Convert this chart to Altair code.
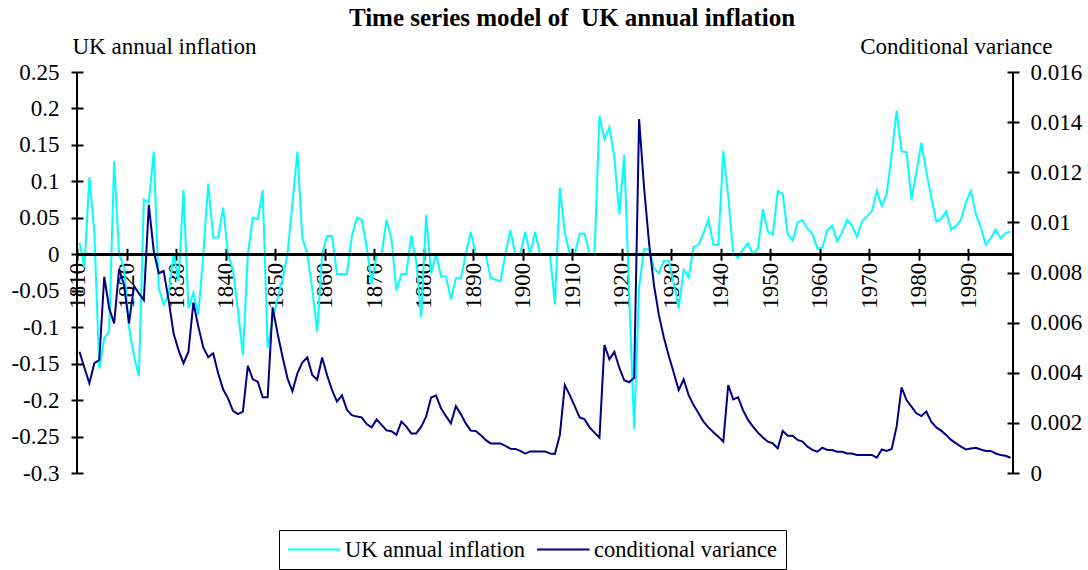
import altair as alt
import pandas as pd

# Annual series, one value per year starting in 1810
first_year = 1810

inflation = [
    0.016, -0.018, 0.106, 0.030, -0.157, -0.115, -0.106, 0.128, 0.000, -0.018,   # 1810s
    -0.100, -0.140, -0.167, 0.075, 0.071, 0.141, -0.046, -0.069, -0.055, 0.000,  # 1820s
    -0.037, 0.088, -0.074, -0.053, -0.083, 0.000, 0.097, 0.023, 0.023, 0.064,    # 1830s
    0.000, -0.022, -0.077, -0.138, 0.000, 0.050, 0.048, 0.088, -0.128, -0.090,   # 1840s
    -0.060, -0.035, 0.000, 0.070, 0.141, 0.023, 0.000, -0.047, -0.106, 0.000,    # 1850s
    0.025, 0.025, -0.027, -0.027, -0.027, 0.025, 0.050, 0.047, 0.010, -0.040,    # 1860s
    0.000, 0.000, 0.047, 0.021, -0.050, -0.027, -0.027, 0.026, -0.010, -0.086,   # 1870s
    0.054, -0.026, 0.000, -0.030, -0.030, -0.062, -0.033, -0.033, 0.000, 0.031,  # 1880s
    0.000, 0.000, 0.000, -0.032, -0.035, -0.037, 0.000, 0.033, 0.000, 0.000,     # 1890s
    0.031, 0.000, 0.031, 0.000, 0.000, 0.000, -0.069, 0.091, 0.030, 0.000,       # 1900s
    0.000, 0.028, 0.028, 0.000, 0.000, 0.190, 0.158, 0.174, 0.133, 0.055,        # 1910s
    0.136, -0.055, -0.240, -0.045, 0.007, 0.007, -0.019, -0.026, -0.009, -0.009, # 1920s
    -0.040, -0.074, -0.021, -0.032, 0.010, 0.013, 0.029, 0.048, 0.013, 0.013,    # 1930s
    0.142, 0.079, 0.002, -0.005, 0.007, 0.015, 0.000, 0.008, 0.062, 0.031,       # 1940s
    0.027, 0.087, 0.083, 0.028, 0.019, 0.044, 0.047, 0.035, 0.028, 0.008,        # 1950s
    0.009, 0.033, 0.039, 0.018, 0.030, 0.047, 0.039, 0.024, 0.045, 0.052,        # 1960s
    0.059, 0.087, 0.066, 0.083, 0.136, 0.197, 0.141, 0.140, 0.075, 0.113,        # 1970s
    0.153, 0.113, 0.078, 0.045, 0.048, 0.059, 0.034, 0.039, 0.047, 0.072,        # 1980s
    0.087, 0.055, 0.037, 0.013, 0.022, 0.034, 0.022, 0.029, 0.031,               # 1990s
]

cond_variance = [
    0.00484, 0.00420, 0.00358, 0.00438, 0.00451, 0.00783, 0.00657, 0.00597, 0.00814, 0.00750,  # 1810s
    0.00597, 0.00746, 0.00717, 0.00690, 0.01070, 0.00885, 0.00797, 0.00806, 0.00690, 0.00557,  # 1820s
    0.00490, 0.00438, 0.00484, 0.00680, 0.00584, 0.00501, 0.00462, 0.00478, 0.00398, 0.00334,  # 1830s
    0.00298, 0.00248, 0.00235, 0.00245, 0.00428, 0.00374, 0.00364, 0.00302, 0.00302, 0.00661,  # 1840s
    0.00557, 0.00464, 0.00378, 0.00326, 0.00398, 0.00441, 0.00462, 0.00391, 0.00372, 0.00461,  # 1850s
    0.00390, 0.00331, 0.00285, 0.00310, 0.00252, 0.00231, 0.00225, 0.00222, 0.00195, 0.00182,  # 1860s
    0.00214, 0.00192, 0.00170, 0.00167, 0.00152, 0.00205, 0.00185, 0.00158, 0.00158, 0.00185,  # 1870s
    0.00225, 0.00301, 0.00309, 0.00258, 0.00227, 0.00198, 0.00267, 0.00235, 0.00198, 0.00169,  # 1880s
    0.00168, 0.00152, 0.00132, 0.00118, 0.00118, 0.00118, 0.00108, 0.00097, 0.00096, 0.00088,  # 1890s
    0.00077, 0.00086, 0.00086, 0.00086, 0.00086, 0.00078, 0.00076, 0.00152, 0.00351, 0.00311,  # 1900s
    0.00267, 0.00222, 0.00214, 0.00182, 0.00161, 0.00141, 0.00511, 0.00454, 0.00484, 0.00420,  # 1910s
    0.00370, 0.00362, 0.00380, 0.01412, 0.01140, 0.00920, 0.00750, 0.00630, 0.00541, 0.00467,  # 1920s
    0.00400, 0.00331, 0.00374, 0.00311, 0.00271, 0.00238, 0.00205, 0.00182, 0.00163, 0.00145,  # 1930s
    0.00125, 0.00351, 0.00294, 0.00302, 0.00250, 0.00212, 0.00185, 0.00161, 0.00142, 0.00125,  # 1940s
    0.00118, 0.00098, 0.00168, 0.00149, 0.00149, 0.00132, 0.00125, 0.00105, 0.00092, 0.00085,  # 1950s
    0.00101, 0.00092, 0.00092, 0.00085, 0.00085, 0.00078, 0.00078, 0.00072, 0.00072, 0.00072,  # 1960s
    0.00072, 0.00061, 0.00094, 0.00088, 0.00096, 0.00185, 0.00342, 0.00291, 0.00265, 0.00238,  # 1970s
    0.00227, 0.00245, 0.00205, 0.00182, 0.00169, 0.00152, 0.00132, 0.00118, 0.00105, 0.00094,  # 1980s
    0.00098, 0.00101, 0.00094, 0.00088, 0.00088, 0.00078, 0.00072, 0.00069, 0.00061,           # 1990s
]

years = list(range(first_year, first_year + len(inflation)))

series_names = ["UK annual inflation", "conditional variance"]
series_colors = ["#00FFFF", "#000080"]

decade_labels = [1810, 1820, 1830, 1840, 1850, 1860, 1870, 1880, 1890, 1900,
                 1910, 1920, 1930, 1940, 1950, 1960, 1970, 1980, 1990]
left_ticks = [0.25, 0.2, 0.15, 0.1, 0.05, 0, -0.05, -0.1, -0.15, -0.2, -0.25, -0.3]
right_ticks = [0, 0.002, 0.004, 0.006, 0.008, 0.01, 0.012, 0.014, 0.016]

df = pd.DataFrame({
    "year": years + years,
    "value": inflation + cond_variance,
    "series": [series_names[0]] * len(years) + [series_names[1]] * len(years),
})

FONT = "Liberation Serif"
FS = 23
W, H = 936, 401

# categories sit between tick marks: ticks fall on year boundaries
tick_positions = [y - 0.5 for y in decade_labels]
x_domain = [years[0] - 0.5, years[-1] + 0.5]

minus_expr = "datum.value < 0 ? '-' + format(-datum.value, '~g') : format(datum.value, '~g')"

# a horizontal line swatch drawn to the right of the symbol anchor
swatch_path = "M-1,0H4"

color = alt.Color(
    "series:N",
    scale=alt.Scale(domain=series_names, range=series_colors),
    legend=alt.Legend(
        title=None, orient="none", legendX=202, legendY=458,
        direction="horizontal", symbolType=swatch_path, symbolSize=441,
        symbolStrokeWidth=2, labelFont=FONT, labelFontSize=22.5, labelColor="black",
        strokeColor="black", padding=8, columnPadding=8, labelOffset=35, labelLimit=0,
    ),
)

x_enc = alt.X(
    "year:Q",
    scale=alt.Scale(domain=x_domain, nice=False, zero=False),
    axis=alt.Axis(
        values=tick_positions, labelExpr="format(datum.value + 0.5, 'd')",
        labelAngle=270, orient="bottom", offset=-(H - H * 5 / 11) - 6,
        domain=False, grid=False, tickSize=12, tickWidth=2, tickColor="black",
        labelPadding=2, labelFont=FONT, labelFontSize=FS, labelColor="black",
        labelOverlap=False, labelFlush=False, title=None,
    ),
)

left_scale = alt.Scale(domain=[-0.3, 0.25], nice=False, zero=False)
left_axis = alt.Axis(
    values=left_ticks, orient="left", offset=-6, domain=False, grid=False,
    tickSize=12, tickWidth=2, tickColor="black", labelPadding=12,
    labelExpr=minus_expr, labelFont=FONT, labelFontSize=FS, labelColor="black",
    labelOverlap=False, labelFlush=False,
    title="UK annual inflation", titleAngle=0, titleX=-11, titleY=-19,
    titleAlign="left", titleBaseline="alphabetic", titleFont=FONT,
    titleFontSize=FS, titleFontWeight="normal", titleColor="black",
)

infl_line = alt.Chart(df).transform_filter(
    alt.datum.series == series_names[0]
).mark_line(strokeWidth=2).encode(
    x=x_enc,
    y=alt.Y("value:Q", scale=left_scale, axis=left_axis),
    color=color,
)

# horizontal line through zero of the inflation scale
zero_line = alt.Chart(df).mark_rule(color="black", strokeWidth=2).encode(
    y=alt.YDatum(0, type="quantitative", scale=left_scale, axis=left_axis),
    x=alt.value(0), x2=alt.value(W),
)

var_line = alt.Chart(df).transform_filter(
    alt.datum.series == series_names[1]
).mark_line(strokeWidth=2).encode(
    x=alt.X("year:Q"),
    y=alt.Y(
        "value:Q",
        scale=alt.Scale(domain=[0, 0.016], nice=False, zero=False),
        axis=alt.Axis(
            values=right_ticks, orient="right", offset=-6, domain=False, grid=False,
            tickSize=12, tickWidth=2, tickColor="black", labelPadding=11,
            format="~g", labelFont=FONT, labelFontSize=FS, labelColor="black",
            labelOverlap=False, labelFlush=False,
            title="Conditional variance", titleAngle=0, titleX=45, titleY=-19,
            titleAlign="right", titleBaseline="alphabetic", titleFont=FONT,
            titleFontSize=FS, titleFontWeight="normal", titleColor="black",
        ),
    ),
    color=color,
)

# vertical axis lines on both sides of the plot
left_edge = alt.Chart(df).mark_rule(color="black", strokeWidth=2).encode(
    x=alt.value(0), y=alt.value(0), y2=alt.value(H)
)
right_edge = alt.Chart(df).mark_rule(color="black", strokeWidth=2).encode(
    x=alt.value(W), y=alt.value(0), y2=alt.value(H)
)

left_part = alt.layer(infl_line, zero_line)

chart = alt.layer(left_part, var_line, left_edge, right_edge).resolve_scale(
    y="independent"
).properties(
    width=W,
    height=H,
    background="white",
    padding={"left": 77, "top": 72, "right": 75, "bottom": 97},
    autosize=alt.AutoSizeParams(type="none"),
    title=alt.TitleParams(
        "Time series model of \u00a0UK annual inflation",
        font=FONT, fontSize=25, fontWeight="bold", color="black",
        anchor="middle", dx=27,
    ),
).configure_view(stroke=None)

chart.save("out.html", embed_options={"renderer": "svg", "actions": False})
